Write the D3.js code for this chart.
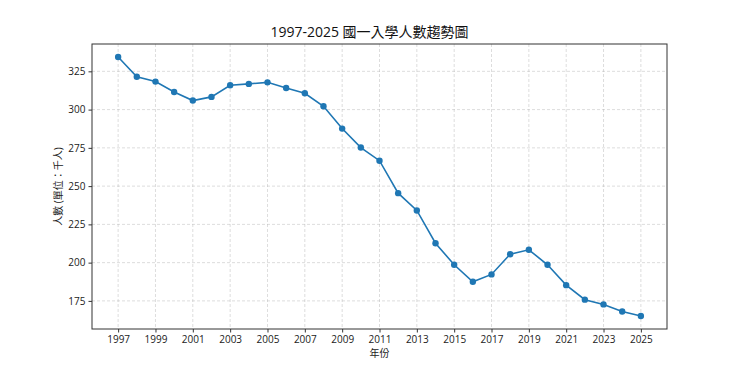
<!DOCTYPE html>
<html><head><meta charset="utf-8">
<script src="https://cdn.jsdelivr.net/npm/d3@7"></script>
<style>body{margin:0;background:#fff}svg{display:block}</style>
</head><body>
<script>
const years = [1997,1998,1999,2000,2001,2002,2003,2004,2005,2006,2007,2008,2009,2010,2011,2012,2013,2014,2015,2016,2017,2018,2019,2020,2021,2022,2023,2024,2025];
const students = [334.4,321.5,318.3,311.5,305.9,308.3,315.9,316.8,317.8,314.1,310.7,302.2,287.6,275.2,266.6,245.4,234.1,212.7,198.6,187.5,192.3,205.5,208.4,198.6,185.3,175.8,172.7,168.1,165.1];
const xTicks = [1997,1999,2001,2003,2005,2007,2009,2011,2013,2015,2017,2019,2021,2023,2025];
const yTicks = [175,200,225,250,275,300,325];
const title = "1997-2025 國一入學人數趨勢圖";
const xLabel = "年份";
const yLabel = "人數 (單位：千人)";

const W = 740, H = 370;
const m = {left: 92, right: 73, top: 44, bottom: 41};
const font = "'Open Sans','Noto Sans CJK TC',sans-serif";
const svg = d3.select("body").append("svg").attr("width", W).attr("height", H);

const xr = d3.extent(years), yr = d3.extent(students);
const xp = (xr[1]-xr[0])*0.05, yp = (yr[1]-yr[0])*0.05;
const x = d3.scaleLinear().domain([xr[0]-xp, xr[1]+xp]).range([m.left, W-m.right]);
const y = d3.scaleLinear().domain([yr[0]-yp, yr[1]+yp]).range([H-m.bottom, m.top]);

// grid
const g = svg.append("g");
g.selectAll(".gx").data(xTicks).enter().append("line")
  .attr("x1", d=>x(d)).attr("x2", d=>x(d)).attr("y1", m.top).attr("y2", H-m.bottom)
  .attr("stroke", "#b0b0b0").attr("stroke-opacity", 0.55).attr("stroke-dasharray", "3,2").attr("stroke-width", 0.8);
g.selectAll(".gy").data(yTicks).enter().append("line")
  .attr("y1", d=>y(d)).attr("y2", d=>y(d)).attr("x1", m.left).attr("x2", W-m.right)
  .attr("stroke", "#b0b0b0").attr("stroke-opacity", 0.55).attr("stroke-dasharray", "3,2").attr("stroke-width", 0.8);

// axes
const xAxis = svg.append("g").attr("transform", `translate(0,${H-m.bottom})`)
  .call(d3.axisBottom(x).tickValues(xTicks).tickFormat(d3.format("d")).tickSize(3.5).tickPadding(3));
const yAxis = svg.append("g").attr("transform", `translate(${m.left},0)`)
  .call(d3.axisLeft(y).tickValues(yTicks).tickSize(3.5).tickPadding(3));
[xAxis, yAxis].forEach(a => {
  a.select(".domain").remove();
  a.selectAll("text").attr("font-family", font).attr("font-size", 10).attr("fill", "#222");
  a.selectAll("line").attr("stroke", "#333");
});

// frame
svg.append("rect").attr("x", m.left).attr("y", m.top)
  .attr("width", W-m.left-m.right).attr("height", H-m.top-m.bottom)
  .attr("fill", "none").attr("stroke", "#333").attr("stroke-width", 1);

// line
svg.append("path").datum(years.map((d,i)=>[d, students[i]]))
  .attr("fill", "none").attr("stroke", "#1f77b4").attr("stroke-width", 1.6)
  .attr("d", d3.line().x(d=>x(d[0])).y(d=>y(d[1])));
svg.selectAll(".pt").data(years).enter().append("circle")
  .attr("cx", d=>x(d)).attr("cy", (d,i)=>y(students[i])).attr("r", 3.2).attr("fill", "#1f77b4");

// labels
svg.append("text").attr("x", (m.left + W - m.right)/2 - 10).attr("y", 37).attr("text-anchor", "middle")
  .attr("font-family", font).attr("font-size", 14).attr("fill", "#111").text(title);
svg.append("text").attr("x", (m.left + W - m.right)/2).attr("y", 357).attr("text-anchor", "middle")
  .attr("font-family", font).attr("font-size", 10).attr("fill", "#222").text(xLabel);
svg.append("text").attr("transform", `translate(62,${(m.top + H - m.bottom)/2}) rotate(-90)`)
  .attr("text-anchor", "middle").attr("font-family", font).attr("font-size", 10).attr("fill", "#222").text(yLabel);
</script>
</body></html>
